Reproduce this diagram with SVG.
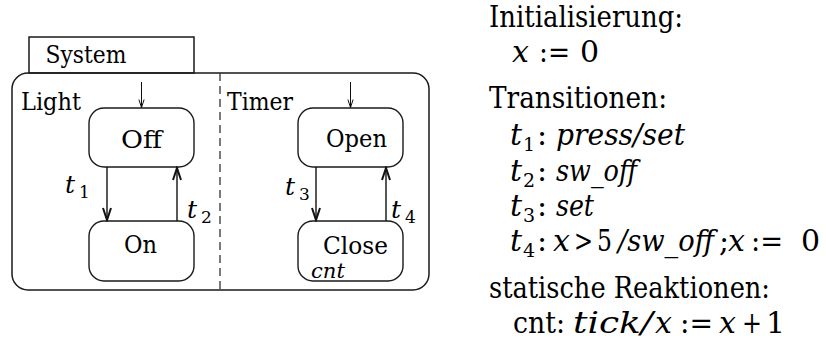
<svg xmlns="http://www.w3.org/2000/svg" width="826" height="347" viewBox="0 0 826 347">
  <style>
    text { font-family: "DejaVu Serif", serif; fill: #000; }
    .lbl { font-size: 25px; }
    .st { fill: #fff; stroke: #1a1a1a; stroke-width: 1.4; }
    .frame { fill: none; stroke: #1a1a1a; stroke-width: 1.5; }
    .tr { fill: none; stroke: #111; stroke-width: 1.4; }
    .init { fill: none; stroke: #111; stroke-width: 1; }
    .it { font-style: italic; }
    .tx { font-size: 30px; }
    .sub { font-size: 19px; }
  </style>
  <defs>
    <marker id="vhead" markerUnits="userSpaceOnUse" markerWidth="16" markerHeight="12" refX="0" refY="0" viewBox="-14 -6 16 12" orient="auto">
      <path d="M -12 -4 L 0 0 L -12 4" fill="none" stroke="#111" stroke-width="2"/>
    </marker>
    <marker id="shead" markerUnits="userSpaceOnUse" markerWidth="12" markerHeight="8" refX="0" refY="0" viewBox="-10 -4 12 8" orient="auto">
      <path d="M -8 -2.6 L 0 0 L -8 2.6" fill="none" stroke="#111" stroke-width="1"/>
    </marker>
  </defs>

  <!-- system frame with tab and orthogonal regions -->
  <g id="system">
    <rect x="29" y="37" width="165" height="36" fill="#fff" stroke="#1a1a1a" stroke-width="1.5"/>
    <text class="lbl" x="45.5" y="63" textLength="81" lengthAdjust="spacingAndGlyphs">System</text>
    <rect class="frame" x="12" y="73" width="417" height="217" rx="16" ry="16"/>
    <line x1="220" y1="73" x2="220" y2="290" stroke="#333" stroke-width="1.3" stroke-dasharray="8 5"/>
    <text class="lbl" x="21" y="110" textLength="60" lengthAdjust="spacingAndGlyphs">Light</text>
    <text class="lbl" x="227" y="110" textLength="66" lengthAdjust="spacingAndGlyphs">Timer</text>
  </g>

  <!-- states -->
  <g id="off">
    <rect class="st" x="89" y="108" width="105" height="59" rx="15" ry="15"/>
    <text class="lbl" x="121" y="148" textLength="41" lengthAdjust="spacingAndGlyphs">Off</text>
  </g>
  <g id="on">
    <rect class="st" x="89" y="221" width="105" height="60" rx="15" ry="15"/>
    <text class="lbl" x="124" y="253" textLength="33" lengthAdjust="spacingAndGlyphs">On</text>
  </g>
  <g id="open">
    <rect class="st" x="298" y="108" width="105" height="59" rx="15" ry="15"/>
    <text class="lbl" x="326" y="147" textLength="61" lengthAdjust="spacingAndGlyphs">Open</text>
  </g>
  <g id="close">
    <rect class="st" x="298" y="221" width="105" height="60" rx="15" ry="15"/>
    <text class="lbl" x="323" y="254" textLength="65" lengthAdjust="spacingAndGlyphs">Close</text>
    <text class="it" x="311" y="278" font-size="21" textLength="34" lengthAdjust="spacingAndGlyphs">cnt</text>
  </g>

  <!-- transitions -->
  <g id="connectors">
    <line class="init" x1="141.5" y1="82" x2="141.5" y2="107.5" marker-end="url(#shead)"/>
    <line class="init" x1="350.5" y1="82" x2="350.5" y2="107.5" marker-end="url(#shead)"/>
    <line class="tr" x1="107" y1="167" x2="107" y2="220" marker-end="url(#vhead)"/>
    <line class="tr" x1="177" y1="221" x2="177" y2="168" marker-end="url(#vhead)"/>
    <line class="tr" x1="316" y1="167" x2="316" y2="220" marker-end="url(#vhead)"/>
    <line class="tr" x1="386" y1="221" x2="386" y2="168" marker-end="url(#vhead)"/>
    <text class="it" x="65" y="193" font-size="25">t</text><text x="79" y="198" font-size="17">1</text>
    <text class="it" x="187" y="218" font-size="25">t</text><text x="201" y="223" font-size="17">2</text>
    <text class="it" x="285" y="195" font-size="25">t</text><text x="299" y="200" font-size="17">3</text>
    <text class="it" x="391" y="218" font-size="25">t</text><text x="405" y="223" font-size="17">4</text>
  </g>

  <!-- textual specification -->
  <g id="spec" class="tx">
    <text x="489" y="27" textLength="194" lengthAdjust="spacingAndGlyphs">Initialisierung:</text>
    <text class="it" x="512" y="62">x</text>
    <text x="539" y="62" textLength="31" lengthAdjust="spacingAndGlyphs">:=</text>
    <text x="580" y="62">0</text>

    <text x="489" y="108" textLength="178" lengthAdjust="spacingAndGlyphs">Transitionen:</text>

    <text class="it" x="510" y="145">t</text><text class="sub" x="523" y="151">1</text><text x="537" y="145">:</text>
    <text class="it" x="556" y="145" textLength="129" lengthAdjust="spacingAndGlyphs">press/set</text>

    <text class="it" x="510" y="181">t</text><text class="sub" x="523" y="187">2</text><text x="537" y="181">:</text>
    <text class="it" x="556" y="181" textLength="81" lengthAdjust="spacingAndGlyphs">sw_off</text>

    <text class="it" x="510" y="216">t</text><text class="sub" x="523" y="222">3</text><text x="537" y="216">:</text>
    <text class="it" x="556" y="216" textLength="38" lengthAdjust="spacingAndGlyphs">set</text>

    <text class="it" x="510" y="251">t</text><text class="sub" x="523" y="257">4</text><text x="537" y="251">:</text>
    <text class="it" x="553" y="251">x</text>
    <text x="574" y="251" textLength="19" lengthAdjust="spacingAndGlyphs">&gt;</text>
    <text x="597" y="251" textLength="15" lengthAdjust="spacingAndGlyphs">5</text>
    <text class="it" x="618" y="251" textLength="96" lengthAdjust="spacingAndGlyphs">/sw_off</text>
    <text x="719" y="251">;</text>
    <text class="it" x="728" y="251">x</text>
    <text x="751" y="251" textLength="32" lengthAdjust="spacingAndGlyphs">:=</text>
    <text x="801" y="251">0</text>

    <text x="489" y="298" textLength="281" lengthAdjust="spacingAndGlyphs">statische Reaktionen:</text>
    <text x="513" y="333" textLength="52" lengthAdjust="spacingAndGlyphs">cnt:</text>
    <text class="it" x="573" y="333" textLength="80" lengthAdjust="spacingAndGlyphs">tick/</text>
    <text class="it" x="655" y="333">x</text>
    <text x="680" y="333" textLength="33" lengthAdjust="spacingAndGlyphs">:=</text>
    <text class="it" x="719" y="333">x</text>
    <text x="742" y="333" textLength="20" lengthAdjust="spacingAndGlyphs">+</text>
    <text x="766" y="333">1</text>
  </g>
</svg>
